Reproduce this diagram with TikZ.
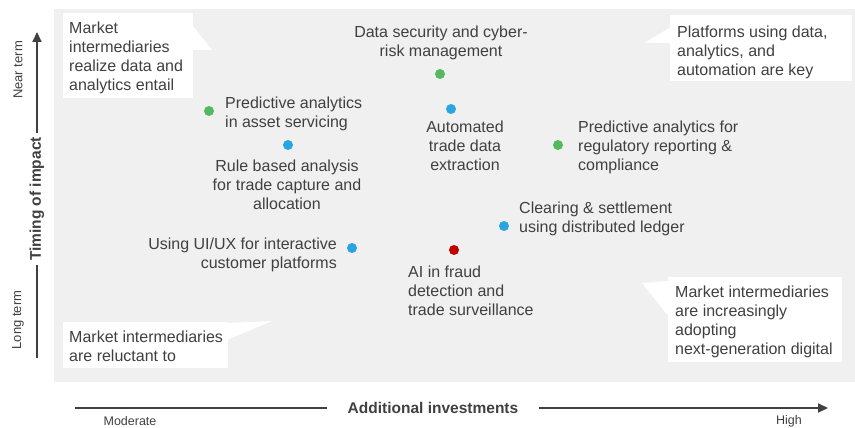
\documentclass[tikz,border=0pt]{standalone}
\usepackage{fontspec}
\setmainfont{Liberation Sans}
\usetikzlibrary{arrows.meta}
\definecolor{txt}{HTML}{404040}
\definecolor{axis}{HTML}{404040}
\definecolor{bg}{HTML}{F0F0F0}
\definecolor{dgreen}{HTML}{52B95F}
\definecolor{dblue}{HTML}{29A5E0}
\definecolor{dred}{HTML}{C00000}
\begin{document}
\begin{tikzpicture}[x=1pt,y=-1pt,
  lbl/.style={inner sep=0pt, font=\fontsize{16}{19}\selectfont, text=txt},
  small/.style={inner sep=0pt, font=\fontsize{12.5}{15}\selectfont, text=txt},
  axlbl/.style={font=\bfseries\fontsize{15.5}{18}\selectfont, text=txt},
  dot/.style={circle, inner sep=0pt, minimum size=10pt},
  callout/.style={fill=white, draw=none},
  axline/.style={draw=axis, line width=2.2pt},
  tip/.style={-{Triangle[length=10pt,width=9pt]}}
]
\useasboundingbox (0,0) rectangle (855,428);
% background panel
\fill[bg] (54,9) rectangle (855,382);

% callout shapes
\fill[callout] (63,13) rectangle (193,98);
\fill[callout] (192,25) -- (212,50) -- (192,50) -- cycle;
\fill[callout] (670,15) rectangle (852,81);
\fill[callout] (671,27) -- (644,43) -- (671,43) -- cycle;
\fill[callout] (668,277) rectangle (842,362);
\fill[callout] (669,281) -- (642,283) -- (669,317) -- cycle;
\fill[callout] (63,322) rectangle (228,368);
\fill[callout] (227,323) -- (272,321) -- (227,340) -- cycle;

% callout texts
\node[lbl, anchor=north west, align=left] (ctl) at (69,22) {Market\\intermediaries\\realize data and\\analytics entail};
\node[lbl, anchor=north west, align=left] (ctr) at (677,26) {Platforms using data,\\analytics, and\\automation are key};
\node[lbl, anchor=north west, align=left] (cbr) at (675,286) {Market intermediaries\\are increasingly\\adopting\\next-generation digital};
\node[lbl, anchor=north west, align=left] (cbl) at (69,331) {Market intermediaries\\are reluctant to};

% dots
\node[dot, fill=dgreen] (g1) at (209,111) {};
\node[dot, fill=dblue]  (b1) at (288,145) {};
\node[dot, fill=dgreen] (g2) at (440,74) {};
\node[dot, fill=dblue]  (b2) at (451,109) {};
\node[dot, fill=dgreen] (g3) at (558,145) {};
\node[dot, fill=dblue]  (b3) at (504,226) {};
\node[dot, fill=dblue]  (b4) at (352,248) {};
\node[dot, fill=dred]   (r1) at (454,250) {};

% item labels
\node[lbl, anchor=north west, align=left] (t1) at (225,97) {Predictive analytics\\in asset servicing};
\node[lbl, anchor=north, align=center] (t2) at (287,160) {Rule based analysis\\for trade capture and\\allocation};
\node[lbl, anchor=north, align=center] (t3) at (441,26) {Data security and cyber-\\risk management};
\node[lbl, anchor=north, align=center] (t4) at (465,121) {Automated\\trade data\\extraction};
\node[lbl, anchor=north west, align=left] (t5) at (578,121) {Predictive analytics for\\regulatory reporting \&\\compliance};
\node[lbl, anchor=north west, align=left] (t6) at (519,202) {Clearing \& settlement\\using distributed ledger};
\node[lbl, anchor=north east, align=right] (t7) at (337,238) {Using UI/UX for interactive\\customer platforms};
\node[lbl, anchor=north west, align=left] (t8) at (408,266) {AI in fraud\\detection and\\trade surveillance};

% vertical axis
\coordinate (vbot) at (37,358);
\coordinate (vtop) at (37,32);
\node[axlbl, rotate=90, inner sep=0pt, outer xsep=4pt] (timing) at (37,199) {Timing of impact};
\draw[axline] (vbot) -- (timing.west);
\draw[axline, tip] (timing.east) -- (vtop);
\node[small, rotate=90, font=\fontsize{13}{15}\selectfont] (near) at (18,70) {Near term};
\node[small, rotate=90, font=\fontsize{13}{15}\selectfont] (long) at (18,320) {Long term};

% horizontal axis
\coordinate (hleft) at (75,408);
\coordinate (hright) at (828,408);
\node[axlbl, inner sep=0pt, outer xsep=21pt] (addinv) at (433,408) {Additional investments};
\draw[axline] (hleft) -- (addinv.west);
\draw[axline, tip] (addinv.east) -- (hright);
\node[small] (moderate) at (130,421) {Moderate};
\node[small] (high) at (789,421) {High};
\end{tikzpicture}
\end{document}
